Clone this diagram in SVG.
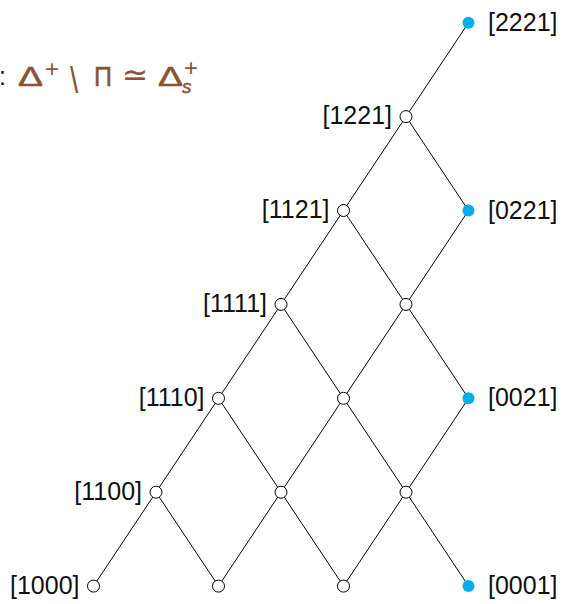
<svg xmlns="http://www.w3.org/2000/svg" width="564" height="604" viewBox="0 0 564 604">
<style>
.e{stroke:#000;stroke-width:1;fill:none}
.w{fill:#fff;stroke:#000;stroke-width:1}
.b{fill:#00aeef;stroke:none}
.l{font-family:"Liberation Sans",Arial,sans-serif;font-size:25px;fill:#111}
.r{text-anchor:start}
.lt{text-anchor:end}
.m{font-family:"Liberation Sans","DejaVu Sans",sans-serif;fill:#8a5334;stroke:#8a5334;stroke-width:0.5}
</style>
<rect width="564" height="604" fill="#fff"/>
<g id="title">
<text x="-1" y="85" style="font-family:'Liberation Sans',sans-serif;font-size:25px;fill:#111">:</text>
<text class="m" x="18" y="85.5" font-size="28" textLength="25" lengthAdjust="spacingAndGlyphs">Δ</text>
<text class="m" x="45" y="77" font-size="24" style="stroke-width:0">+</text>
<text class="m" transform="translate(70,93) scale(1.1,1.4)" x="0" y="0" font-size="27" style="stroke-width:0">\</text>
<text class="m" x="94" y="85.5" font-size="28" textLength="18" lengthAdjust="spacingAndGlyphs">Π</text>
<text class="m" x="122" y="85" font-size="30" textLength="26" lengthAdjust="spacingAndGlyphs" style="font-family:'DejaVu Sans',sans-serif;stroke-width:0.3">≃</text>
<text class="m" x="158" y="85.5" font-size="28" textLength="25" lengthAdjust="spacingAndGlyphs">Δ</text>
<text class="m" x="182" y="93" font-size="19" font-style="italic">s</text>
<text class="m" x="184" y="76" font-size="24" style="stroke-width:0">+</text>
</g>
<g id="edges">
<line class="e" x1="468.5" y1="22.7" x2="406" y2="116.6"/>
<line class="e" x1="406" y1="116.6" x2="343.5" y2="210.5"/>
<line class="e" x1="406" y1="116.6" x2="468.5" y2="210.5"/>
<line class="e" x1="343.5" y1="210.5" x2="281" y2="304.4"/>
<line class="e" x1="343.5" y1="210.5" x2="406" y2="304.4"/>
<line class="e" x1="468.5" y1="210.5" x2="406" y2="304.4"/>
<line class="e" x1="281" y1="304.4" x2="218.5" y2="398.3"/>
<line class="e" x1="281" y1="304.4" x2="343.5" y2="398.3"/>
<line class="e" x1="406" y1="304.4" x2="343.5" y2="398.3"/>
<line class="e" x1="406" y1="304.4" x2="468.5" y2="398.3"/>
<line class="e" x1="218.5" y1="398.3" x2="156" y2="492.2"/>
<line class="e" x1="218.5" y1="398.3" x2="281" y2="492.2"/>
<line class="e" x1="343.5" y1="398.3" x2="281" y2="492.2"/>
<line class="e" x1="343.5" y1="398.3" x2="406" y2="492.2"/>
<line class="e" x1="468.5" y1="398.3" x2="406" y2="492.2"/>
<line class="e" x1="156" y1="492.2" x2="93.5" y2="586.1"/>
<line class="e" x1="156" y1="492.2" x2="218.5" y2="586.1"/>
<line class="e" x1="281" y1="492.2" x2="218.5" y2="586.1"/>
<line class="e" x1="281" y1="492.2" x2="343.5" y2="586.1"/>
<line class="e" x1="406" y1="492.2" x2="343.5" y2="586.1"/>
<line class="e" x1="406" y1="492.2" x2="468.5" y2="586.1"/>
</g>
<g id="n2221"><circle class="b" cx="468.5" cy="22.7" r="6"/><text class="l r" x="488" y="30.5">[2221]</text></g>
<g id="n0221"><circle class="b" cx="468.5" cy="210.5" r="6"/><text class="l r" x="488" y="218.5">[0221]</text></g>
<g id="n0021"><circle class="b" cx="468.5" cy="398.3" r="6"/><text class="l r" x="488" y="406.3">[0021]</text></g>
<g id="n0001"><circle class="b" cx="468.5" cy="586.1" r="6"/><text class="l r" x="488" y="594">[0001]</text></g>
<g id="n1221"><circle class="w" cx="406" cy="116.6" r="6"/><text class="l lt" x="392" y="124.3">[1221]</text></g>
<g id="n1121"><circle class="w" cx="343.5" cy="210.5" r="6"/><text class="l lt" x="329.5" y="218.3">[1121]</text></g>
<g id="n1111"><circle class="w" cx="281" cy="304.4" r="6"/><text class="l lt" x="267" y="312.2">[1111]</text></g>
<g id="n1110"><circle class="w" cx="218.5" cy="398.3" r="6"/><text class="l lt" x="204.5" y="406.1">[1110]</text></g>
<g id="n1100"><circle class="w" cx="156" cy="492.2" r="6"/><text class="l lt" x="142" y="500">[1100]</text></g>
<g id="n1000"><circle class="w" cx="93.5" cy="586.1" r="6"/><text class="l lt" x="79.5" y="594">[1000]</text></g>
<g id="n_a"><circle class="w" cx="406" cy="304.4" r="6"/></g>
<g id="n_b"><circle class="w" cx="343.5" cy="398.3" r="6"/></g>
<g id="n_c"><circle class="w" cx="406" cy="492.2" r="6"/></g>
<g id="n_d"><circle class="w" cx="281" cy="492.2" r="6"/></g>
<g id="n_e"><circle class="w" cx="218.5" cy="586.1" r="6"/></g>
<g id="n_f"><circle class="w" cx="343.5" cy="586.1" r="6"/></g>
</svg>
